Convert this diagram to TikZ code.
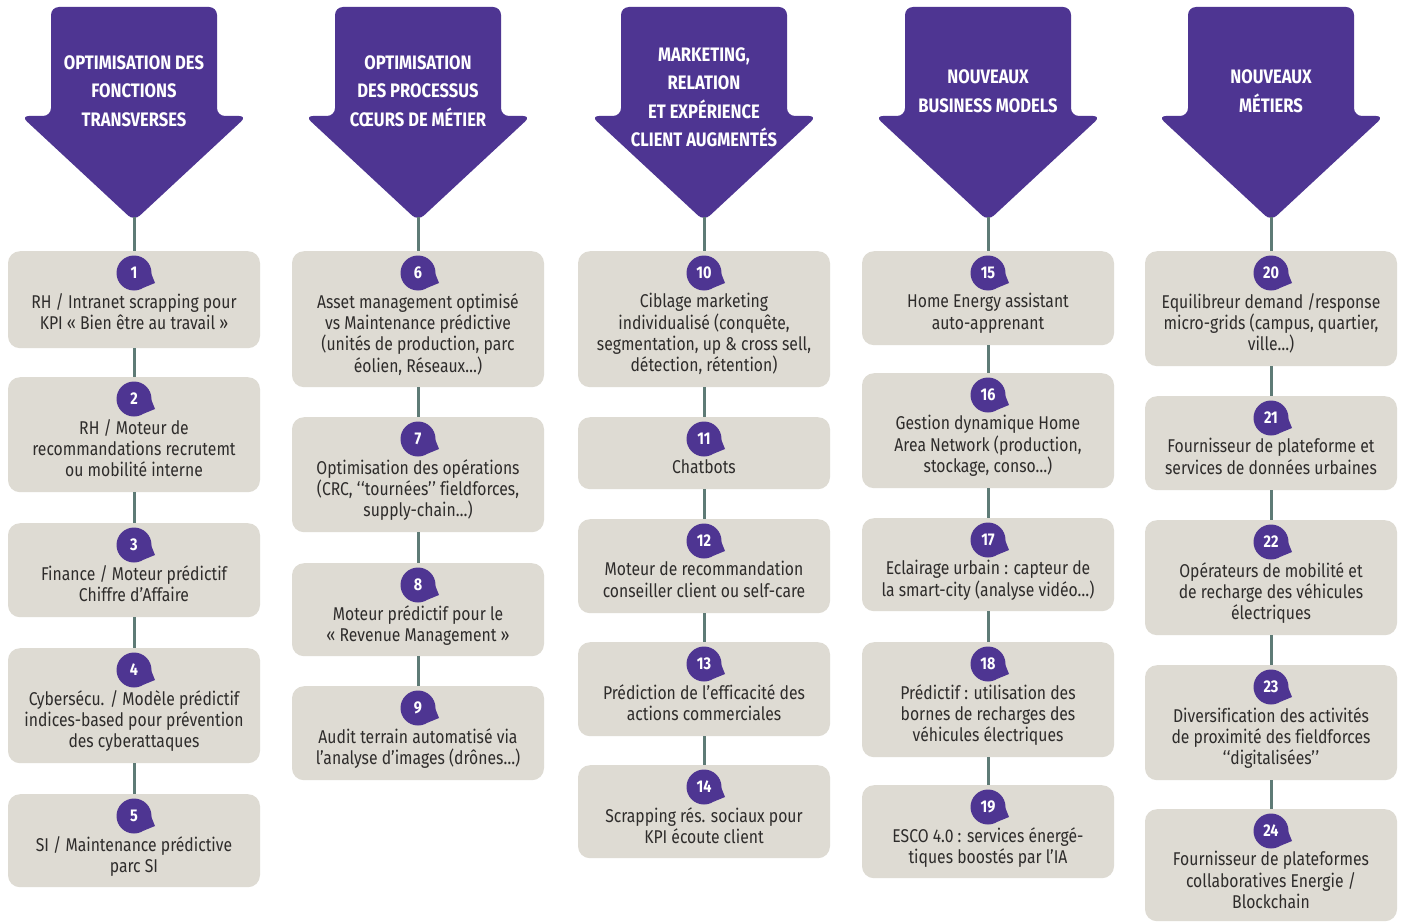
\documentclass[tikz,border=0pt]{standalone}
\usepackage{fontspec}
\setmainfont{Fira Sans}[FakeStretch=0.85]
\definecolor{violet}{HTML}{4E3592}
\definecolor{panel}{HTML}{DEDBD3}
\definecolor{stem}{HTML}{5E7B76}
\definecolor{ink}{HTML}{2E2C2B}
\tikzset{
  headshape/.style={fill=violet, rounded corners=8pt},
  headtext/.style={text=white, font=\bfseries\fontsize{19.5}{28.5}\selectfont, align=center, inner sep=0pt},
  itembox/.style={fill=panel, rounded corners=12pt, minimum width=252pt, anchor=north, inner sep=0pt},
  itemtext/.style={text=ink, font=\fontsize{18.5}{21.4}\selectfont, align=center, anchor=north, inner sep=0pt},
  badge/.style={circle, fill=violet, minimum size=35pt, inner sep=0pt, text=white, font=\bfseries\fontsize{17}{17}\selectfont},
  link/.style={draw=stem, line width=3pt},
}
% header arrow: name, centre x, text centre y, title
\newcommand\headarrow[4]{%
  \path[headshape] (#2-83,7) -- (#2-83,116) -- (#2-113,116) -- (#2,221)
     -- (#2+113,116) -- (#2+83,116) -- (#2+83,7) -- cycle;
  \node[headtext] (#1-t) at (#2,#3) {#4};
  \coordinate (#1) at (#2,217);
}
% item: name, centre x, top y, height, number, text
\newcommand\itemcard[6]{%
  \node[itembox, minimum height=#4pt] (#1) at (#2,#3) {};
  \fill[violet] (#2+10,#3+22+14.5) -- (#2+21,#3+22+10) -- (#2+17,#3+22) -- cycle;
  \node[badge] (#1-n) at (#2,#3+22) {#5};
  \node[itemtext] (#1-t) at (#2,#3+42) {#6};
}
\newcommand\oq{‘\kern0.6pt‘}
\newcommand\cq{’\kern0.6pt’}
\begin{document}
\begin{tikzpicture}[x=1pt,y=-1pt]
\useasboundingbox (0,0) rectangle (1402,923);
\fill[white] (0,0) rectangle (1402,923);

% column 1
\headarrow{h1}{134}{91}{OPTIMISATION DES\\FONCTIONS\\TRANSVERSES}
\itemcard{b1}{134}{251}{97}{1}{RH / Intranet scrapping pour\\KPI « Bien être au travail »}
\itemcard{b2}{134}{377}{115}{2}{RH / Moteur de\\recommandations recrutemt\\ou mobilité interne}
\itemcard{b3}{134}{523}{94}{3}{Finance / Moteur prédictif\\Chiffre d’Affaire}
\itemcard{b4}{134}{648}{115}{4}{Cybersécu. / Modèle prédictif\\indices-based pour prévention\\des cyberattaques}
\itemcard{b5}{134}{794}{93}{5}{SI / Maintenance prédictive\\parc SI}

% column 2
\headarrow{h2}{418}{91}{OPTIMISATION\\DES PROCESSUS\\CŒURS DE MÉTIER}
\itemcard{b6}{418}{251}{136}{6}{Asset management optimisé\\vs Maintenance prédictive\\(unités de production, parc\\éolien, Réseaux…)}
\itemcard{b7}{418}{417}{115}{7}{Optimisation des opérations\\(CRC, \oq tournées\cq{} f\kern0pt ieldforces,\\supply-chain…)}
\itemcard{b8}{418}{563}{93}{8}{Moteur prédictif pour le\\« Revenue Management »}
\itemcard{b9}{418}{686}{94}{9}{Audit terrain automatisé via\\l’analyse d’images (drônes…)}

% column 3
\headarrow{h3}{704}{97}{MARKETING,\\RELATION\\ET EXPÉRIENCE\\CLIENT AUGMENTÉS}
\itemcard{b10}{704}{251}{136}{10}{Ciblage marketing\\individualisé (conquête,\\segmentation, up \& cross sell,\\détection, rétention)}
\itemcard{b11}{704}{417}{72}{11}{Chatbots}
\itemcard{b12}{704}{519}{94}{12}{Moteur de recommandation\\conseiller client ou self-care}
\itemcard{b13}{704}{642}{94}{13}{Prédiction de l’ef\kern0pt f\kern0pt icacité des\\actions commerciales}
\itemcard{b14}{704}{765}{93}{14}{Scrapping rés. sociaux pour\\KPI écoute client}

% column 4
\headarrow{h4}{988}{91}{NOUVEAUX\\BUSINESS MODELS}
\itemcard{b15}{988}{251}{94}{15}{Home Energy assistant\\auto-apprenant}
\itemcard{b16}{988}{373}{115}{16}{Gestion dynamique Home\\Area Network (production,\\stockage, conso…)}
\itemcard{b17}{988}{518}{93}{17}{Eclairage urbain : capteur de\\la smart-city (analyse vidéo…)}
\itemcard{b18}{988}{642}{115}{18}{Prédictif : utilisation des\\bornes de recharges des\\véhicules électriques}
\itemcard{b19}{988}{785}{93}{19}{ESCO 4.0 : services énergé-\\tiques boostés par l’IA}

% column 5
\headarrow{h5}{1271}{91}{NOUVEAUX\\MÉTIERS}
\itemcard{b20}{1271}{251}{115}{20}{Equilibreur demand /response\\micro-grids (campus, quartier,\\ville…)}
\itemcard{b21}{1271}{396}{94}{21}{Fournisseur de plateforme et\\services de données urbaines}
\itemcard{b22}{1271}{520}{115}{22}{Opérateurs de mobilité et\\de recharge des véhicules\\électriques}
\itemcard{b23}{1271}{665}{115}{23}{Diversif\kern0pt ication des activités\\de proximité des f\kern0pt ieldforces\\\oq digitalisées\cq}
\itemcard{b24}{1271}{809}{112}{24}{Fournisseur de plateformes\\collaboratives Energie /\\Blockchain}

% stems joining each column
\draw[link] (h1) -- (b1.north) (b1.south) -- (b2.north) (b2.south) -- (b3.north) (b3.south) -- (b4.north) (b4.south) -- (b5.north);
\draw[link] (h2) -- (b6.north) (b6.south) -- (b7.north) (b7.south) -- (b8.north) (b8.south) -- (b9.north);
\draw[link] (h3) -- (b10.north) (b10.south) -- (b11.north) (b11.south) -- (b12.north) (b12.south) -- (b13.north) (b13.south) -- (b14.north);
\draw[link] (h4) -- (b15.north) (b15.south) -- (b16.north) (b16.south) -- (b17.north) (b17.south) -- (b18.north) (b18.south) -- (b19.north);
\draw[link] (h5) -- (b20.north) (b20.south) -- (b21.north) (b21.south) -- (b22.north) (b22.south) -- (b23.north) (b23.south) -- (b24.north);
\end{tikzpicture}
\end{document}
